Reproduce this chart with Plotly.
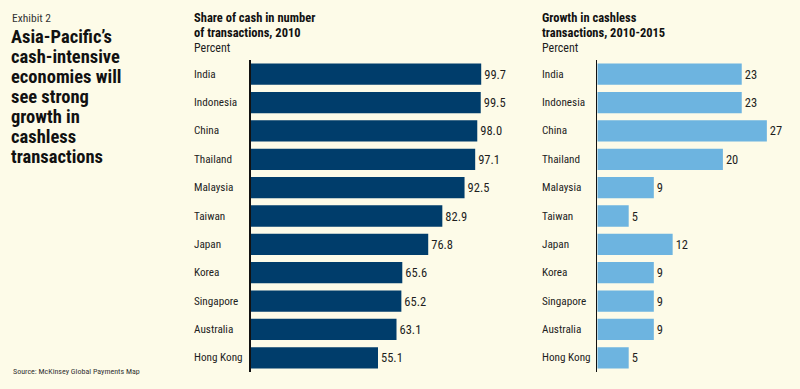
import plotly.graph_objects as go

countries = ["India", "Indonesia", "China", "Thailand", "Malaysia", "Taiwan",
             "Japan", "Korea", "Singapore", "Australia", "Hong Kong"]
cash_share_2010 = [99.7, 99.5, 98.0, 97.1, 92.5, 82.9, 76.8, 65.6, 65.2, 63.1, 55.1]
cashless_growth = [23, 23, 27, 20, 9, 5, 12, 9, 9, 9, 5]

title_lines = ["Asia-Pacific’s", "cash-intensive", "economies will",
               "see strong", "growth in", "cashless", "transactions"]
left_header = ["Share of cash in number", "of transactions, 2010"]
right_header = ["Growth in cashless", "transactions, 2010-2015"]

FONT = "Roboto Condensed, Liberation Sans Narrow, DejaVu Sans Condensed, sans-serif"
BG = "#FDFBE8"
TXT = "#1e1e1e"
NAVY = "#003D6B"
LIGHT = "#6DB4E0"

fig = go.Figure()
fig.add_trace(go.Bar(
    y=countries, x=cash_share_2010, orientation="h",
    marker=dict(color=NAVY, line=dict(width=0)),
    text=[f"{v:.1f}" for v in cash_share_2010], textposition="outside",
    textfont=dict(family=FONT, size=12.5, color=TXT),
    cliponaxis=False, constraintext="none",
    xaxis="x", yaxis="y", hoverinfo="skip"))
fig.add_trace(go.Bar(
    y=countries, x=cashless_growth, orientation="h",
    marker=dict(color=LIGHT, line=dict(width=0)),
    text=[str(v) for v in cashless_growth], textposition="outside",
    textfont=dict(family=FONT, size=12.5, color=TXT),
    cliponaxis=False, constraintext="none",
    xaxis="x2", yaxis="y2", hoverinfo="skip"))

ydom = [1 - 372 / 389, 1 - 60 / 389]
yaxis_common = dict(domain=ydom, autorange="reversed", showticklabels=False,
                    showgrid=False, zeroline=False, ticks="",
                    showline=True, linecolor="#111111", linewidth=1.5,
                    fixedrange=True)
xaxis_common = dict(showticklabels=False, showgrid=False, zeroline=False,
                    ticks="", showline=False, fixedrange=True)

fig.update_layout(
    width=800, height=389,
    paper_bgcolor=BG, plot_bgcolor=BG,
    margin=dict(l=0, r=0, t=0, b=0),
    showlegend=False, bargap=0.25,
    font=dict(family=FONT, color=TXT),
    xaxis=dict(domain=[250.5 / 800, 510 / 800], range=[0, (510 - 250.5) / 2.314], **xaxis_common),
    yaxis=dict(anchor="x", **yaxis_common),
    xaxis2=dict(domain=[597.3 / 800, 796 / 800], range=[0, (796 - 597.3) / 6.28], anchor="y2", **xaxis_common),
    yaxis2=dict(anchor="x2", **yaxis_common),
)

ann = []
def px_x(x):
    return x / 800
def px_y(y):
    return 1 - y / 389

ann.append(dict(text="Exhibit 2", x=px_x(10), y=px_y(18), xanchor="left", yanchor="middle",
                font=dict(size=11.5, color="#333333")))
for i, line in enumerate(title_lines):
    ann.append(dict(text=f"<b>{line}</b>", x=px_x(9), y=px_y(37 + 20 * i),
                    xanchor="left", yanchor="middle", font=dict(size=18.5, color="#111111")))
for i, line in enumerate(left_header):
    ann.append(dict(text=f"<b>{line}</b>", x=px_x(191.5), y=px_y(17.5 + 15 * i),
                    xanchor="left", yanchor="middle", font=dict(size=12.5, color="#111111")))
ann.append(dict(text="Percent", x=px_x(191.5), y=px_y(47.5), xanchor="left", yanchor="middle",
                font=dict(size=12, color=TXT)))
for i, line in enumerate(right_header):
    ann.append(dict(text=f"<b>{line}</b>", x=px_x(540), y=px_y(17.5 + 15 * i),
                    xanchor="left", yanchor="middle", font=dict(size=12.5, color="#111111")))
ann.append(dict(text="Percent", x=px_x(540), y=px_y(47.5), xanchor="left", yanchor="middle",
                font=dict(size=12, color=TXT)))
for c in countries:
    ann.append(dict(text=c, x=px_x(191.5), xref="paper", y=c, yref="y", xanchor="left",
                    yanchor="middle", font=dict(size=11.2, color=TXT)))
    ann.append(dict(text=c, x=px_x(540), xref="paper", y=c, yref="y2", xanchor="left",
                    yanchor="middle", font=dict(size=11.2, color=TXT)))
ann.append(dict(text="Source: McKinsey Global Payments Map", x=px_x(11), y=px_y(371),
                xanchor="left", yanchor="middle", font=dict(size=8, color="#333333")))

for a in ann:
    a.setdefault("xref", "paper")
    a.setdefault("yref", "paper")
    a["showarrow"] = False
fig.update_layout(annotations=ann)

fig.write_html("out.html", config={"displayModeBar": False, "staticPlot": True},
               post_script="document.body.style.margin='0';")
